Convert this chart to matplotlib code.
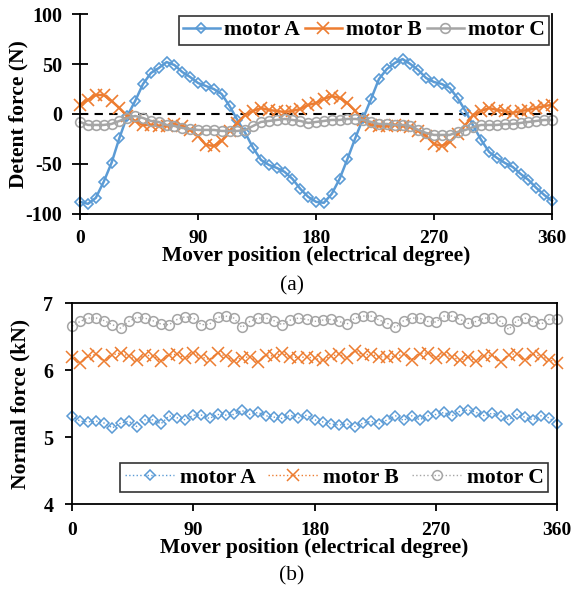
import numpy as np
import matplotlib
matplotlib.use("Agg")
import matplotlib.pyplot as plt

plt.rcParams['font.family'] = ['Liberation Serif', 'DejaVu Serif']
plt.rcParams['font.weight'] = 'bold'
plt.rcParams['axes.unicode_minus'] = False

# posicao do mover (graus eletricos), passo de 6 graus
posicao = np.arange(0, 361, 6)

# forca de retencao (N)
detent_a = [-88, -90, -84, -68, -49, -24, -2, 13, 30, 41, 46, 52, 49, 42, 37, 31,
            28, 25, 20, 8, -6, -19, -34, -46, -51, -54, -58, -65, -75, -83, -88,
            -89, -80, -65, -45, -24, -4, 15, 35, 45, 51, 55, 50, 44, 36, 32,
            30, 26, 16, 3, -12, -26, -38, -44, -49, -53, -60, -66, -74, -81, -87]
detent_b = [9, 14, 19, 19, 13, 6, -2, -7, -11, -11, -12, -12, -10, -12, -16, -22,
            -31, -32, -27, -17, -9, -1, 3, 6, 4, 3, 2, 3, 5, 9, 11,
            15, 18, 16, 11, 3, -6, -11, -12, -12, -11, -12, -13, -17, -22, -30,
            -32, -28, -20, -11, -1, 3, 6, 4, 3, 1, 3, 4, 6, 8, 9]
detent_c = [-8, -11, -11, -11, -10, -7, -4, -2, -4, -7, -8, -11, -12, -14, -15, -16,
            -16, -16, -17, -17, -17, -16, -12, -8, -7, -6, -5, -6, -7, -9, -8,
            -7, -6, -6, -5, -5, -6, -8, -10, -10, -11, -11, -12, -16, -19, -21,
            -21, -21, -18, -16, -13, -11, -11, -11, -10, -10, -9, -8, -7, -6, -6]

# forca normal (kN)
normal_a = [5.32, 5.24, 5.23, 5.24, 5.21, 5.14, 5.21, 5.24, 5.16, 5.26, 5.26, 5.20,
            5.32, 5.29, 5.26, 5.33, 5.33, 5.28, 5.34, 5.33, 5.34, 5.40, 5.34, 5.37,
            5.32, 5.30, 5.28, 5.33, 5.29, 5.33, 5.26, 5.23, 5.20, 5.18, 5.20, 5.16,
            5.21, 5.24, 5.20, 5.26, 5.32, 5.25, 5.32, 5.26, 5.32, 5.34, 5.37, 5.32,
            5.39, 5.41, 5.37, 5.32, 5.36, 5.32, 5.26, 5.34, 5.30, 5.26, 5.32, 5.29, 5.20]
normal_b = [6.20, 6.11, 6.21, 6.24, 6.14, 6.23, 6.26, 6.21, 6.15, 6.23, 6.21, 6.14,
            6.23, 6.24, 6.18, 6.26, 6.20, 6.16, 6.26, 6.21, 6.14, 6.19, 6.20, 6.12,
            6.23, 6.21, 6.26, 6.20, 6.19, 6.20, 6.18, 6.15, 6.21, 6.24, 6.19, 6.29,
            6.23, 6.24, 6.20, 6.20, 6.21, 6.24, 6.16, 6.25, 6.26, 6.19, 6.24, 6.20,
            6.15, 6.20, 6.14, 6.21, 6.23, 6.12, 6.23, 6.25, 6.15, 6.24, 6.21, 6.16, 6.11]
normal_c = [6.66, 6.73, 6.78, 6.78, 6.74, 6.68, 6.63, 6.73, 6.79, 6.78, 6.74, 6.69,
            6.68, 6.76, 6.80, 6.78, 6.68, 6.69, 6.79, 6.81, 6.78, 6.64, 6.73, 6.78,
            6.78, 6.74, 6.68, 6.75, 6.78, 6.76, 6.73, 6.75, 6.76, 6.73, 6.69, 6.78,
            6.81, 6.81, 6.75, 6.70, 6.64, 6.74, 6.78, 6.78, 6.73, 6.72, 6.81, 6.81,
            6.76, 6.70, 6.73, 6.78, 6.78, 6.73, 6.61, 6.74, 6.78, 6.73, 6.69, 6.76, 6.76]

rotulos = ["motor A", "motor B", "motor C"]
cores = ["#5B9BD5", "#ED7D31", "#A5A5A5"]
marcadores = ["D", "x", "o"]
tamanhos = [5.5, 8, 7]

fig = plt.figure(figsize=(5.72, 5.89), dpi=100)
ax1 = fig.add_axes([0.140, 0.637, 0.825, 0.339])
ax2 = fig.add_axes([0.126, 0.144, 0.848, 0.341])

## (a) forca de retencao
for serie, cor, m, ms, rot in zip([detent_a, detent_b, detent_c], cores, marcadores, tamanhos, rotulos):
    ax1.plot(posicao, serie, color=cor, marker=m, ms=ms, mfc='none', mec=cor,
             mew=1.2, lw=1.8, label=rot, clip_on=False)
ax1.axhline(0, color='black', lw=1.5, ls=(0, (4, 3)), zorder=0)
ax1.set_xlim(0, 360)
ax1.set_ylim(-100, 100)
ax1.set_xticks([0, 90, 180, 270, 360])
ax1.set_yticks([-100, -50, 0, 50, 100])
ax1.spines['top'].set_visible(False)
for s in ['left', 'bottom', 'right']:
    ax1.spines[s].set_linewidth(1.3)
ax1.tick_params(axis='y', direction='inout', length=12, width=1.3, labelsize=14.5, pad=7)
ax1.tick_params(axis='x', direction='out', length=4.5, width=1.3, labelsize=14, pad=7)
ax1.set_ylabel("Detent force (N)", fontsize=15.5, fontweight='bold', labelpad=-2)
ax1.set_xlabel("Mover position (electrical degree)", fontsize=15.5, fontweight='bold', labelpad=-0.5)
leg1 = ax1.legend(loc='upper right', bbox_to_anchor=(1.003, 1.012), ncol=3, fontsize=15.5,
                  frameon=True, fancybox=False, edgecolor='black', handlelength=1.7,
                  columnspacing=0.25, handletextpad=0.2, borderpad=0.2, borderaxespad=0.2)
leg1.get_frame().set_linewidth(1.2)
fig.text(0.51, 0.5145, "(a)", ha='center', va='center', fontsize=15.5, fontweight='normal')

## (b) forca normal
for serie, cor, m, ms, rot in zip([normal_a, normal_b, normal_c], cores, marcadores, tamanhos, rotulos):
    ax2.plot(posicao, serie, color=cor, marker=m, ms=ms, mfc='none', mec=cor,
             mew=1.1, lw=1.0, ls=':', label=rot, clip_on=False)
ax2.set_xlim(0, 360)
ax2.set_ylim(4, 7)
ax2.set_xticks([0, 90, 180, 270, 360])
ax2.set_yticks([4, 5, 6, 7])
for s in ax2.spines.values():
    s.set_linewidth(1.3)
ax2.tick_params(axis='both', direction='out', length=5, width=1.3, labelsize=14.5)
ax2.tick_params(axis='x', labelsize=14, pad=7.5)
ax2.tick_params(axis='y', pad=8.5)
ax2.set_ylabel("Normal force (kN)", fontsize=15.5, fontweight='bold', labelpad=9)
ax2.set_xlabel("Mover position (electrical degree)", fontsize=15.5, fontweight='bold', labelpad=-0.5)
leg2 = ax2.legend(loc='lower right', bbox_to_anchor=(0.99, 0.04), ncol=3, fontsize=15.5,
                  frameon=True, fancybox=False, edgecolor='black', handlelength=2.3,
                  columnspacing=0.6, handletextpad=0.25, borderpad=0.2, borderaxespad=0.2)
leg2.get_frame().set_linewidth(1.2)
fig.text(0.51, 0.0225, "(b)", ha='center', va='center', fontsize=15.5, fontweight='normal')

fig.savefig("out.png", dpi=100)
